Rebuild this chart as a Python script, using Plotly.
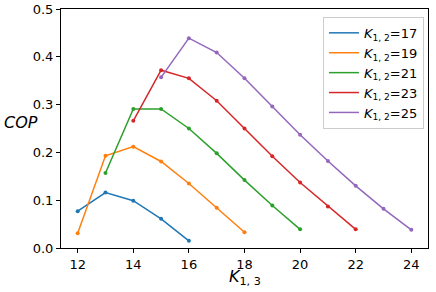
import plotly.graph_objects as go

k13_17 = [12, 13, 14, 15, 16]
cop_17 = [0.077, 0.116, 0.099, 0.061, 0.015]
k13_19 = [12, 13, 14, 15, 16, 17, 18]
cop_19 = [0.031, 0.193, 0.212, 0.181, 0.135, 0.084, 0.033]
k13_21 = [13, 14, 15, 16, 17, 18, 19, 20]
cop_21 = [0.157, 0.291, 0.291, 0.250, 0.198, 0.142, 0.089, 0.039]
k13_23 = [14, 15, 16, 17, 18, 19, 20, 21, 22]
cop_23 = [0.266, 0.372, 0.355, 0.308, 0.250, 0.192, 0.137, 0.087, 0.039]
k13_25 = [15, 16, 17, 18, 19, 20, 21, 22, 23, 24]
cop_25 = [0.357, 0.439, 0.409, 0.355, 0.296, 0.237, 0.182, 0.130, 0.082, 0.038]

series = [
    ("17", k13_17, cop_17, "#1f77b4"),
    ("19", k13_19, cop_19, "#ff7f0e"),
    ("21", k13_21, cop_21, "#2ca02c"),
    ("23", k13_23, cop_23, "#d62728"),
    ("25", k13_25, cop_25, "#9467bd"),
]

FONT = "DejaVu Sans"
fig = go.Figure()
for k12, xs, ys, c in series:
    fig.add_trace(go.Scatter(
        x=xs, y=ys, mode="lines",
        name=f"<i>K</i><sub>1, 2</sub>=" + k12,
        line=dict(color=c, width=1.5),
    ))
for k12, xs, ys, c in series:
    fig.add_trace(go.Scatter(
        x=xs, y=ys, mode="markers", showlegend=False,
        marker=dict(color=c, size=4),
    ))

fig.update_layout(
    width=436, height=292,
    margin=dict(l=61, r=8, t=9, b=44),
    paper_bgcolor="white", plot_bgcolor="white",
    font=dict(family=FONT, size=13, color="black"),
    showlegend=True,
    legend=dict(
        x=0.989, y=0.967, xanchor="right", yanchor="top",
        bgcolor="rgba(255,255,255,0.8)", bordercolor="#cccccc", borderwidth=1,
        font=dict(family=FONT, size=13),
        itemwidth=30, tracegroupgap=1,
    ),
)
fig.update_xaxes(
    range=[11.4, 24.6], tickvals=[12, 14, 16, 18, 20, 22, 24],
    showgrid=False, zeroline=False, automargin=False,
    showline=True, linecolor="black", linewidth=1, mirror=True,
    ticks="outside", ticklen=4, tickcolor="black",
)
fig.update_yaxes(
    range=[0, 0.5], tickvals=[0, 0.1, 0.2, 0.3, 0.4, 0.5], tickformat=".1f",
    showgrid=False, zeroline=False, automargin=False,
    showline=True, linecolor="black", linewidth=1, mirror=True,
    ticks="outside", ticklen=4, tickcolor="black",
)
fig.add_annotation(
    text="<i>COP</i>", xref="paper", yref="paper", x=-0.109, y=0.527,
    xanchor="center", yanchor="middle", showarrow=False,
    font=dict(family=FONT, size=16),
)
fig.add_annotation(
    text="<i>K</i><sub>1, 3</sub>", xref="paper", yref="paper", x=0.5, y=-0.125,
    xanchor="center", yanchor="middle", showarrow=False,
    font=dict(family=FONT, size=16),
)
fig.write_html("out.html", config={"displayModeBar": False},
               post_script="document.body.style.margin='0';")
